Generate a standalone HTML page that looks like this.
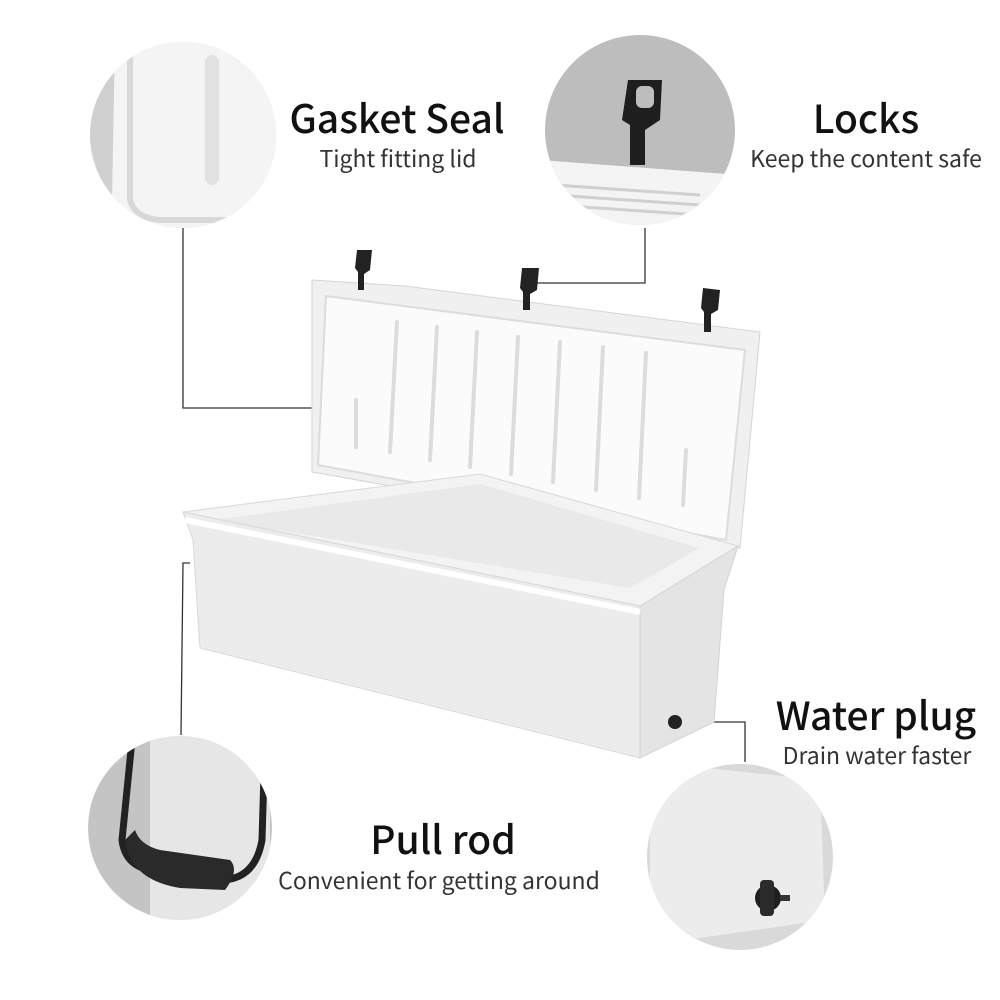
<!DOCTYPE html>
<html><head><meta charset="utf-8"><style>
html,body{margin:0;padding:0;background:#fff;}
svg{display:block}
</style></head><body>
<svg width="1000" height="1000" viewBox="0 0 1000 1000" xmlns="http://www.w3.org/2000/svg" font-family="Noto Sans CJK SC, Liberation Sans, sans-serif">
<rect width="1000" height="1000" fill="#fff"/>
<defs>
<clipPath id="c1"><circle cx="183" cy="135" r="93"/></clipPath>
<clipPath id="c2"><circle cx="640" cy="130" r="95"/></clipPath>
<clipPath id="c3"><circle cx="180" cy="828" r="92"/></clipPath>
<clipPath id="c4"><circle cx="740" cy="857" r="93"/></clipPath>
</defs>
<g clip-path="url(#c1)">
<rect x="80" y="30" width="210" height="210" fill="#d0d0d0"/>
<path d="M115 40 L290 40 L290 240 L140 240 Q115 230 112 200 Z" fill="#f4f4f4"/>
<path d="M130 45 L130 200 Q135 218 160 220 L290 220" fill="none" stroke="#d8d8d8" stroke-width="6"/>
<rect x="205" y="55" width="14" height="130" rx="7" fill="#e2e2e2"/>
</g>
<g clip-path="url(#c2)">
<rect x="540" y="30" width="200" height="200" fill="#bdbdbd"/>
<path d="M540 160 L740 175 L740 230 L540 230 Z" fill="#f4f4f4"/>
<path d="M555 185 L700 195 M555 195 L700 205 M555 205 L700 215" stroke="#d0d0d0" stroke-width="3"/>
<path d="M628 80 L662 80 L660 120 L645 130 L645 165 L630 165 L630 125 L622 120 Z" fill="#1e1e1e"/>
<rect x="636" y="86" width="18" height="22" rx="6" fill="#bdbdbd"/>
</g>
<g clip-path="url(#c3)">
<rect x="85" y="735" width="190" height="190" fill="#c4c4c4"/>
<rect x="150" y="735" width="120" height="190" fill="#e6e6e6"/>
<path d="M132 740 L122 840 Q125 865 150 870 L220 880 Q255 880 262 840 L265 740" fill="none" stroke="#222" stroke-width="7"/>
<path d="M125 840 Q130 880 180 888 L225 890 Q240 870 230 860 L160 850 Q140 845 135 830 Z" fill="#2a2a2a"/>
</g>
<g clip-path="url(#c4)">
<rect x="645" y="762" width="190" height="190" fill="#d9d9d9"/>
<path d="M650 762 L820 780 L825 920 L650 945 Z" fill="#ececec"/>
<circle cx="768" cy="898" r="13" fill="#1f1f1f"/>
<rect x="760" y="880" width="14" height="36" rx="4" fill="#2b2b2b"/>
<rect x="780" y="895" width="10" height="6" fill="#333"/>
</g>
<g stroke="#333" stroke-width="1.3" fill="none">
<path d="M183 228 L183 408 L318 408"/>
<path d="M645 228 L645 283 L535 283"/>
<path d="M190 563 L183 563 L181 735"/>
<path d="M672 722 L745 722 L745 762"/>
</g>
<path d="M312 280 L405 286 L760 332 L740 548 L312 472 Z" fill="#f0f0f0" stroke="#d5d5d5"/>
<path d="M326 296 L745 350 L726 540 L318 465 Z" fill="#fbfbfb" stroke="#dcdcdc" stroke-width="2"/>
<g stroke="#dcdcdc" stroke-width="4" stroke-linecap="round">
<line x1="356" y1="400" x2="356" y2="447"/>
<line x1="397" y1="322" x2="390" y2="452"/>
<line x1="437" y1="327" x2="430" y2="460"/>
<line x1="477" y1="332" x2="470" y2="467"/>
<line x1="518" y1="337" x2="511" y2="474"/>
<line x1="560" y1="342" x2="553" y2="482"/>
<line x1="603" y1="347" x2="596" y2="490"/>
<line x1="646" y1="353" x2="639" y2="498"/>
<line x1="686" y1="450" x2="683" y2="505"/>
</g>
<g fill="#222">
<path d="M357 250 L372 250 L370 270 L364 274 L364 290 L358 290 L358 272 L355 268 Z"/>
<path d="M522 268 L539 268 L537 290 L530 294 L530 310 L523 310 L523 292 L520 288 Z"/>
<path d="M703 288 L720 290 L718 310 L711 314 L711 332 L704 332 L704 312 L701 308 Z"/>
</g>
<path d="M183 512 L480 474 L738 546 L640 606 Z" fill="#f3f3f3" stroke="#d8d8d8"/>
<path d="M215 520 L480 484 L700 548 L630 588 Z" fill="#e9e9e9"/>
<path d="M183 512 L640 606 L640 758 L200 648 L193 540 Z" fill="#ececec" stroke="#d8d8d8"/>
<path d="M640 606 L738 546 L724 590 L714 722 L640 758 Z" fill="#e4e4e4" stroke="#d4d4d4"/>
<path d="M185 520 L640 612" stroke="#fff" stroke-width="6"/>
<circle cx="675" cy="722" r="7" fill="#222"/>
<g fill="#111" text-anchor="middle">
<text x="397" y="133" font-size="39" font-weight="500">Gasket Seal</text>
<text x="398" y="167" font-size="23" fill="#333">Tight fitting lid</text>
<text x="866" y="133" font-size="39" font-weight="500">Locks</text>
<text x="866" y="167" font-size="23" fill="#333">Keep the content safe</text>
<text x="876" y="730" font-size="39" font-weight="500">Water plug</text>
<text x="877" y="764" font-size="23" fill="#333">Drain water faster</text>
<text x="443" y="854" font-size="39" font-weight="500">Pull rod</text>
<text x="439" y="889" font-size="23" fill="#333">Convenient for getting around</text>
</g>
</svg>
</body></html>
